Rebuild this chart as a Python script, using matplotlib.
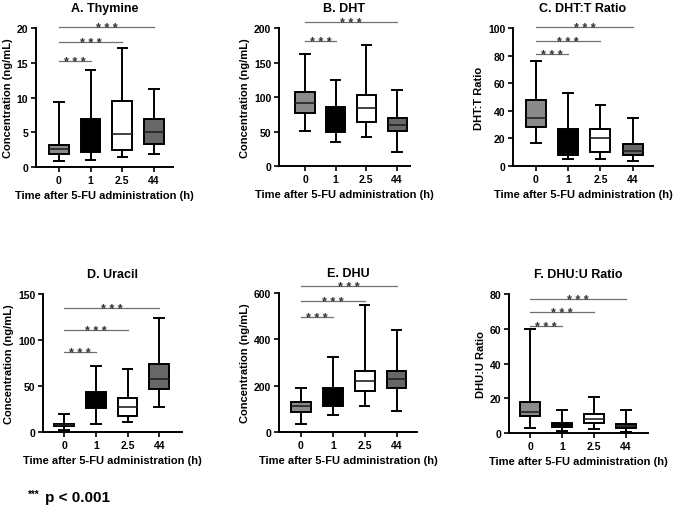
import matplotlib
matplotlib.use("Agg")
import matplotlib.pyplot as plt

plt.rcParams['font.family'] = ['Liberation Sans', 'DejaVu Sans']
plt.rcParams['font.weight'] = 'bold'

times = ["0", "1", "2.5", "44"]
xlabel = "Time after 5-FU administration (h)"

titles = ["A. Thymine", "B. DHT", "C. DHT:T Ratio", "D. Uracil", "E. DHU", "F. DHU:U Ratio"]
ylabels = ["Concentration (ng/mL)", "Concentration (ng/mL)", "DHT:T Ratio",
           "Concentration (ng/mL)", "Concentration (ng/mL)", "DHU:U Ratio"]
ymax = [20, 200, 100, 150, 600, 80]
ystep = [5, 50, 20, 50, 200, 20]

# box stats per time point: whisker low, q1, median, q3, whisker high
thymine = [[0.9, 1.9, 2.6, 3.2, 9.4], [1.0, 2.2, 4.5, 6.9, 13.9],
           [1.4, 2.4, 4.7, 9.5, 17.1], [1.8, 3.3, 5.1, 6.9, 11.2]]
dht = [[51, 77, 91, 108, 163], [35, 50, 70, 86, 125],
       [42, 64, 84, 103, 176], [20, 51, 60, 69, 110]]
dht_t = [[17, 28, 35, 48, 76], [5, 8, 15, 27, 53],
         [5, 10, 20, 27, 44], [4, 8, 11, 16, 35]]
uracil = [[2, 7, 8, 9, 20], [9, 26, 35, 44, 72],
          [11, 17, 27, 37, 68], [27, 47, 58, 74, 124]]
dhu = [[35, 88, 112, 130, 188], [73, 112, 150, 190, 325],
       [113, 178, 222, 264, 550], [92, 190, 228, 262, 440]]
dhu_u = [[3, 10, 12, 18, 60], [1, 3.5, 4.5, 6, 13],
         [2.5, 6, 8, 11, 21], [0.8, 3, 4, 5, 13]]
panels = [thymine, dht, dht_t, uracil, dhu, dhu_u]

# significance brackets: (target group index, y level)
sig = [[(1, 15.3), (2, 18.0), (3, 20.2)],
       [(1, 181), (3, 208)],
       [(1, 81), (2, 90.8), (3, 100.5)],
       [(1, 87), (2, 111), (3, 134.5)],
       [(1, 498), (2, 564), (3, 631)],
       [(1, 61.8), (2, 69.5), (3, 77)]]

fills = ["#8a8a8a", "#000000", "#ffffff", "#676767"]
med_colors = ["#222222", "#000000", "#222222", "#222222"]

rects = [[0.053, 0.6706, 0.2024, 0.2725], [0.412, 0.6725, 0.1935, 0.2706],
         [0.7578, 0.6725, 0.2068, 0.2706], [0.0635, 0.151, 0.2053, 0.2706],
         [0.412, 0.151, 0.2038, 0.2725], [0.7518, 0.149, 0.2053, 0.2725]]
xlims = [(-0.73, 3.6), (-0.85, 3.42), (-0.71, 3.63),
         (-0.67, 3.72), (-0.69, 3.64), (-0.66, 3.69)]

fig = plt.figure(figsize=(6.77, 5.10), dpi=100)

for i, data in enumerate(panels):
    ax = fig.add_axes(rects[i])
    stats = []
    for j, d in enumerate(data):
        stats.append(dict(whislo=d[0], q1=d[1], med=d[2], q3=d[3], whishi=d[4],
                          fliers=[], label=times[j]))
    bp = ax.bxp(stats, positions=range(4), widths=0.62, capwidths=0.3,
                patch_artist=True, showfliers=False,
                boxprops=dict(linewidth=1.4, edgecolor="black"),
                whiskerprops=dict(linewidth=1.4, color="black"),
                capprops=dict(linewidth=1.4, color="black"),
                medianprops=dict(linewidth=1.2, color="#222222"))
    for patch, c in zip(bp["boxes"], fills):
        patch.set_facecolor(c)
    for med, c in zip(bp["medians"], med_colors):
        med.set_color(c)

    for tgt, yl in sig[i]:
        ax.plot([0, tgt], [yl, yl], color="#707070", lw=0.9, clip_on=False)
        ax.annotate("* * *", (tgt / 2, yl), xytext=(0, -2.8), textcoords="offset points",
                    ha="center", va="baseline", fontsize=9, color="#333333",
                    annotation_clip=False)

    ax.set_xlim(*xlims[i])
    ax.set_ylim(0, ymax[i])
    ax.set_yticks(range(0, ymax[i] + 1, ystep[i]))
    ax.set_xticks(range(4))
    ax.set_xticklabels(times)
    ax.tick_params(labelsize=7.5, width=1.2, length=3.5, pad=2)
    for s in ["top", "right"]:
        ax.spines[s].set_visible(False)
    for s in ["left", "bottom"]:
        ax.spines[s].set_linewidth(1.4)
    ax.set_ylabel(ylabels[i], fontsize=8, fontweight="bold", labelpad=3)
    ax.set_xlabel(xlabel, fontsize=8, fontweight="bold", labelpad=4)
    ax.set_title(titles[i], fontsize=9, fontweight="bold", pad=12)

fig.text(0.041, 0.024, "***", fontsize=7, fontweight="bold")
fig.text(0.066, 0.016, "p < 0.001", fontsize=11, fontweight="bold")

fig.savefig("out.png", dpi=100)
